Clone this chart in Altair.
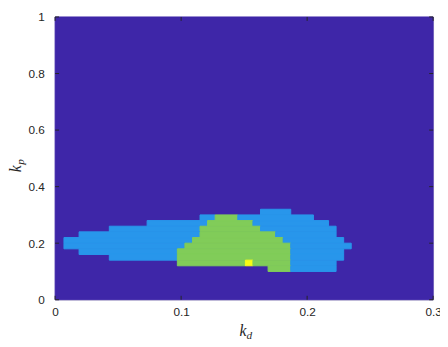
import altair as alt
import pandas as pd

# ---- grid geometry ----
kd_start = 0.007          # left edge of first grid column
kd_step = 0.006           # column width in k_d
kp_step = 0.02            # row height in k_p
row_kp_bottom = [0.30, 0.28, 0.26, 0.24, 0.22, 0.20, 0.18, 0.16, 0.14, 0.12, 0.10]

# ---- region map, one run-length list per row (top row first) ----
# "." = background(0), "1" = blue, "2" = green, "3" = yellow
region_rows = [
    [(".", 26), ("1", 4), (".", 8)],
    [(".", 18), ("1", 2), ("2", 3), ("1", 10), (".", 5)],
    [(".", 11), ("1", 8), ("2", 6), ("1", 10), (".", 3)],
    [(".", 6), ("1", 12), ("2", 8), ("1", 10), (".", 2)],
    [(".", 2), ("1", 16), ("2", 10), ("1", 8), (".", 2)],
    [("1", 17), ("2", 12), ("1", 8), (".", 1)],
    [("1", 16), ("2", 14), ("1", 8)],
    [(".", 2), ("1", 13), ("2", 15), ("1", 7), (".", 1)],
    [(".", 6), ("1", 9), ("2", 15), ("1", 7), (".", 1)],
    [(".", 15), ("2", 9), ("3", 1), ("2", 5), ("1", 6), (".", 2)],
    [(".", 27), ("2", 3), ("1", 6), (".", 2)],
]

class_names = ["0", "1", "2", "3"]
class_colors = ["#3e26a8", "#2896eb", "#81cc59", "#f9fb15"]

x_ticks = [0, 0.1, 0.2, 0.3]
y_ticks = [0, 0.2, 0.4, 0.6, 0.8, 1.0]
x_domain = [0, 0.3]
y_domain = [0, 1]

# ---- build rectangles ----
recs = [{"kd0": x_domain[0], "kd1": x_domain[1], "kp0": y_domain[0], "kp1": y_domain[1], "cls": "0"}]
for r, runs in enumerate(region_rows):
    col = 0
    for cls, n in runs:
        if cls != ".":
            recs.append({
                "kd0": kd_start + col * kd_step,
                "kd1": kd_start + (col + n) * kd_step,
                "kp0": row_kp_bottom[r],
                "kp1": row_kp_bottom[r] + kp_step,
                "cls": cls,
            })
        col += n
df = pd.DataFrame(recs)

W, H = 385, 288
AX = "#262626"
xs = alt.Scale(domain=x_domain, nice=False, zero=False)
ys = alt.Scale(domain=y_domain, nice=False, zero=False)
cs = alt.Scale(domain=class_names, range=class_colors)

x_axis = alt.Axis(values=x_ticks, format="~g", ticks=False, domain=False, grid=False,
                  labelFont="Liberation Sans", labelFontSize=12, labelColor=AX,
                  labelPadding=7, labelFlush=False, title=None)
y_axis = alt.Axis(values=y_ticks, format="~g", ticks=False, domain=False, grid=False,
                  labelFont="Liberation Sans", labelFontSize=12, labelColor=AX,
                  labelPadding=11, labelFlush=False, title=None)

heat = alt.Chart(df).mark_rect(strokeWidth=1, strokeOpacity=1, opacity=1).encode(
    x=alt.X("kd0:Q", scale=xs, axis=x_axis),
    x2="kd1:Q",
    y=alt.Y("kp0:Q", scale=ys, axis=y_axis),
    y2="kp1:Q",
    color=alt.Color("cls:N", scale=cs, legend=None),
    stroke=alt.Stroke("cls:N", scale=cs, legend=None),
)

xt = pd.DataFrame({"v": x_ticks})
yt = pd.DataFrame({"v": y_ticks})
tick_len = 4
xb = alt.Chart(xt).mark_rule(color=AX, strokeWidth=1).encode(
    x=alt.X("v:Q", scale=xs, axis=x_axis), y=alt.value(H), y2=alt.value(H - tick_len))
xtop = alt.Chart(xt).mark_rule(color=AX, strokeWidth=1).encode(
    x=alt.X("v:Q", scale=xs, axis=x_axis), y=alt.value(0), y2=alt.value(tick_len))
yl = alt.Chart(yt).mark_rule(color=AX, strokeWidth=1).encode(
    y=alt.Y("v:Q", scale=ys, axis=y_axis), x=alt.value(0), x2=alt.value(tick_len))
yr = alt.Chart(yt).mark_rule(color=AX, strokeWidth=1).encode(
    y=alt.Y("v:Q", scale=ys, axis=y_axis), x=alt.value(W), x2=alt.value(W - tick_len))

tfont = "Liberation Serif"
xk = alt.Chart(pd.DataFrame({"t": ["k"]})).mark_text(
    font=tfont, fontStyle="italic", fontSize=16, color=AX, align="right", baseline="alphabetic"
).encode(text="t:N", x=alt.value(195), y=alt.value(325))
xd = alt.Chart(pd.DataFrame({"t": ["d"]})).mark_text(
    font=tfont, fontStyle="italic", fontSize=11.5, color=AX, align="left", baseline="alphabetic"
).encode(text="t:N", x=alt.value(195), y=alt.value(328))
yk = alt.Chart(pd.DataFrame({"t": ["k"]})).mark_text(
    font=tfont, fontStyle="italic", fontSize=16, color=AX, align="right", baseline="alphabetic", angle=270
).encode(text="t:N", x=alt.value(-35), y=alt.value(151))
yp = alt.Chart(pd.DataFrame({"t": ["p"]})).mark_text(
    font=tfont, fontStyle="italic", fontSize=11.5, color=AX, align="left", baseline="alphabetic", angle=270
).encode(text="t:N", x=alt.value(-32), y=alt.value(150.5))

chart = alt.layer(heat, xb, xtop, yl, yr, xk, xd, yk, yp).properties(
    width=W, height=H,
    padding={"left": 48, "top": 6, "right": 7, "bottom": 45},
    autosize=alt.AutoSizeParams(type="none"),
).configure_view(stroke=AX, strokeWidth=1).configure(background="white")

chart.save("out.html", embed_options={"renderer": "svg", "actions": False})
